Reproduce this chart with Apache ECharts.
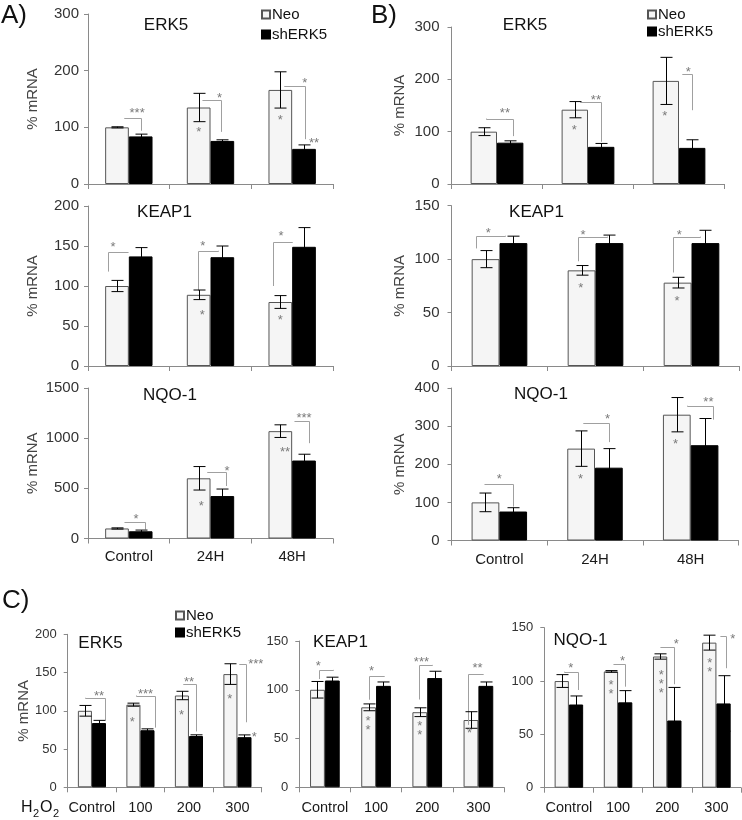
<!DOCTYPE html>
<html><head><meta charset="utf-8">
<script src="https://cdn.jsdelivr.net/npm/echarts@6/dist/echarts.min.js"></script>
<style>html,body{margin:0;padding:0;background:#fff}#c{width:742px;height:820px}</style>
</head><body><div id="c"></div>
<script>
// ---------- categories ----------
const timeCats = ['Control', '24H', '48H'];
const doseCats = ['Control', '100', '200', '300'];
const seriesNames = ['Neo', 'shERK5'];

// ---------- Panel A (time course) ----------
const aErkNeo = [100, 135, 166];   const aErkNeoErr = [1, 25, 32];
const aErkSh  = [84, 76, 62];      const aErkShErr  = [4, 2, 7];
const aKeapNeo = [100, 89, 80];    const aKeapNeoErr = [7, 6, 8];
const aKeapSh  = [137, 136, 149];  const aKeapShErr  = [11, 14, 24];
const aNqoNeo = [100, 600, 1070];  const aNqoNeoErr = [6, 117, 63];
const aNqoSh  = [72, 423, 777];    const aNqoShErr  = [12, 70, 63];

// ---------- Panel B (time course) ----------
const bErkNeo = [100, 142, 197];   const bErkNeoErr = [7.5, 15.5, 45];
const bErkSh  = [79, 71, 69];      const bErkShErr  = [3.5, 6.5, 15.5];
const bKeapNeo = [100, 89.5, 78];  const bKeapNeoErr = [8, 4.5, 5];
const bKeapSh  = [115, 115, 115];  const bKeapShErr  = [6.5, 7.5, 12];
const bNqoNeo = [100, 241, 330];   const bNqoNeoErr = [24.5, 46.5, 45];
const bNqoSh  = [76, 191, 250];    const bNqoShErr  = [10, 50, 70];

// ---------- Panel C (H2O2 dose) ----------
const cErkNeo = [100, 108, 120, 148];    const cErkNeoErr = [7, 2, 5.5, 13.5];
const cErkSh  = [84, 74.6, 67, 65.5];    const cErkShErr  = [3.5, 1.8, 1.6, 3];
const cKeapNeo = [100, 82, 77, 69];      const cKeapNeoErr = [8.5, 3.5, 4.5, 8.5];
const cKeapSh  = [109.5, 104, 112, 104]; const cKeapShErr  = [3.4, 4, 7, 4];
const cNqoNeo = [100, 109, 123, 136];    const cNqoNeoErr = [6, 0.8, 2.5, 7];
const cNqoSh  = [78, 80, 63, 79];        const cNqoShErr  = [8, 11, 31, 26];

// ---------- significance annotations ----------
// bracket: [category, left end (bar widths from category centre), right end, left foot value, top value, right foot value]
const aErkBr  = [[0,-0.2,0.5,116.5,116.5,94],[1,-0.37,0.45,147.6,147.6,92],[2,-0.33,0.53,173,173,79]];
const aKeapBr = [[0,-0.87,-0.04,118,142,142],[1,-0.53,0.3,94,144,144],[2,-0.83,0,100,155,155]];
const aNqoBr  = [[0,-0.2,0.7,160,160,90],[1,-0.15,0.65,663,663,523],[2,0.08,0.7,1167,1167,950]];
const bErkBr  = [[0,-0.4,0.6,125,125,91.5],[1,-0.3,0.5,157,157,80.7],[2,0.1,0.5,210,210,141]];
const bKeapBr = [[0,-0.85,0.2,110,121.9,121.9],[1,-0.62,0.43,98,121,121],[2,-0.66,0.3,87.5,121,121]];
const bNqoBr  = [[0,-0.55,0.48,147,147,89],[1,-0.42,0.52,308,308,258],[2,-0.12,0.81,353.5,353.5,317]];
const cErkBr  = [[0,-0.49,0.9,117,117,88],[1,-0.32,1.07,120,120,78],[2,-0.45,0.47,135,135,73],[3,0.1,0.62,161,161,85]];
const cKeapBr = [[0,-0.39,0.56,111,120.4,120.4],[1,-0.47,0.53,89.8,114,114],[2,-0.55,0.33,90,125.5,125.5],[3,-0.7,0.32,64,116,116]];
const cNqoBr  = [[0,-0.33,0.64,108.75,108.75,91.6],[1,-0.36,0.52,115.6,115.6,94.7],[2,-0.49,0.48,131.6,131.6,97],[3,0.25,0.7,142,142,112]];

// star marks: [category, offset (bar widths from category centre), value, text]
const aErkSt  = [[0,0.35,130,'***'],[1,0.38,158,'*'],[2,0.53,184,'*'],[1,-0.5,98,'*'],[2,-0.5,119,'*'],[2,0.92,78,'**']];
const aKeapSt = [[0,-0.67,152,'*'],[1,-0.33,154,'*'],[2,-0.47,166,'*'],[1,-0.35,68,'*'],[2,-0.5,61,'*']];
const aNqoSt  = [[0,0.3,230,'*'],[1,0.7,707,'*'],[2,0.5,1230,'***'],[1,-0.39,357,'*'],[2,-0.3,897,'**']];
const bErkSt  = [[0,0.3,141,'**'],[1,0.3,167,'**'],[2,0.35,220,'*'],[1,-0.52,109,'*'],[2,-0.54,135,'*']];
const bKeapSt = [[0,-0.4,127,'*'],[1,-0.45,125.6,'*'],[2,-0.44,125.6,'*'],[1,-0.53,75.6,'*'],[2,-0.52,64,'*']];
const bNqoSt  = [[0,0,170,'*'],[1,0.45,328,'*'],[2,0.64,372,'**'],[1,-0.52,170,'*'],[2,-0.55,260,'*']];
const cErkSt  = [[0,0.5,123,'**'],[1,0.36,126.6,'***'],[2,0,142,'**'],[3,1.3,165,'***'],[1,-0.58,90,'*'],[2,-0.52,99,'*'],[3,-0.55,120,'*'],[3,1.2,70,'*']];
const cKeapSt = [[0,-0.45,127.6,'*'],[1,-0.3,122,'*'],[2,-0.39,132,'***'],[3,-0.06,125,'**'],[1,-0.54,67,'*\n*'],[2,-0.5,61.5,'*\n*'],[3,-0.6,58.5,'*']];
const cNqoSt  = [[0,0.14,115,'*'],[1,0.32,122,'*'],[2,0.64,137.5,'*'],[3,1.15,142,'*'],[1,-0.5,95,'*\n*'],[2,-0.42,100,'*\n*\n*'],[3,-0.47,116,'*\n*']];

// ---------- layout ----------
const FONT = '"Liberation Sans", Arial, Helvetica, sans-serif';
const GAP = 0.42;
const panels = [
  {cats:timeCats, neo:aErkNeo, neoErr:aErkNeoErr, sh:aErkSh, shErr:aErkShErr, br:aErkBr, st:aErkSt, max:300, step:100,
   grid:{left:88, top:14, width:245, height:170}, title:'ERK5', tx:166, ty:25, xl:false, yName:true, nameGap:48, fs:15, lm:9},
  {cats:timeCats, neo:aKeapNeo, neoErr:aKeapNeoErr, sh:aKeapSh, shErr:aKeapShErr, br:aKeapBr, st:aKeapSt, max:200, step:50,
   grid:{left:88, top:206, width:245, height:160}, title:'KEAP1', tx:164.5, ty:212, xl:false, yName:true, nameGap:48, fs:15, lm:9},
  {cats:timeCats, neo:aNqoNeo, neoErr:aNqoNeoErr, sh:aNqoSh, shErr:aNqoShErr, br:aNqoBr, st:aNqoSt, max:1500, step:500,
   grid:{left:88, top:388, width:245, height:150.5}, title:'NQO-1', tx:170, ty:395, xl:true, yName:true, nameGap:48, fs:15, lm:9, xfs:15, xm:11},
  {cats:timeCats, neo:bErkNeo, neoErr:bErkNeoErr, sh:bErkSh, shErr:bErkShErr, br:bErkBr, st:bErkSt, max:300, step:100,
   grid:{left:451.5, top:27, width:273, height:157}, title:'ERK5', tx:525, ty:25, xl:false, yName:true, nameGap:44, fs:15, lm:12},
  {cats:timeCats, neo:bKeapNeo, neoErr:bKeapNeoErr, sh:bKeapSh, shErr:bKeapShErr, br:bKeapBr, st:bKeapSt, max:150, step:50,
   grid:{left:451.5, top:205.7, width:288, height:160.3}, title:'KEAP1', tx:536.5, ty:212, xl:false, yName:true, nameGap:44, fs:15, lm:12},
  {cats:timeCats, neo:bNqoNeo, neoErr:bNqoNeoErr, sh:bNqoSh, shErr:bNqoShErr, br:bNqoBr, st:bNqoSt, max:400, step:100,
   grid:{left:451.5, top:388, width:287, height:152.5}, title:'NQO-1', tx:541, ty:394, xl:true, yName:true, nameGap:44, fs:15, lm:12, xfs:15, xm:12},
  {cats:doseCats, neo:cErkNeo, neoErr:cErkNeoErr, sh:cErkSh, shErr:cErkShErr, br:cErkBr, st:cErkSt, max:200, step:50,
   grid:{left:67.7, top:634.3, width:194, height:153}, title:'ERK5', tx:100.5, ty:643, xl:true, yName:true, nameGap:33, fs:13, lm:11, xfs:14.5, xm:13},
  {cats:doseCats, neo:cKeapNeo, neoErr:cKeapNeoErr, sh:cKeapSh, shErr:cKeapShErr, br:cKeapBr, st:cKeapSt, max:150, step:50,
   grid:{left:299.3, top:641, width:204.7, height:146.3}, title:'KEAP1', tx:340.5, ty:642, xl:true, yName:false, fs:13, lm:11, xfs:14.5, xm:13},
  {cats:doseCats, neo:cNqoNeo, neoErr:cNqoNeoErr, sh:cNqoSh, shErr:cNqoShErr, br:cNqoBr, st:cNqoSt, max:150, step:50,
   grid:{left:544.3, top:627.7, width:196.7, height:160}, title:'NQO-1', tx:580.5, ty:640, xl:true, yName:false, fs:13, lm:11, xfs:14.5, xm:13}
];

const grids = [], xAxes = [], yAxes = [], series = [];
const graphics = [];
const AX = '#8a8a8a';

panels.forEach((p, i) => {
  grids.push(Object.assign({containLabel:false}, p.grid));
  xAxes.push({
    type:'category', gridIndex:i, data:p.cats,
    axisLine:{lineStyle:{color:AX, width:1}},
    axisTick:{show:true, length:5, lineStyle:{color:AX}},
    axisLabel:{show:p.xl, interval:0, fontFamily:FONT, fontSize:p.xfs || 15, color:'#1a1a1a', margin:p.xm || 11}
  });
  yAxes.push({
    type:'value', gridIndex:i, min:0, max:p.max, interval:p.step,
    name:p.yName ? '% mRNA' : '', nameLocation:'middle', nameRotate:90, nameGap:p.nameGap || 40,
    nameTextStyle:{fontFamily:FONT, fontSize:15, color:'#444'},
    axisLine:{show:true, lineStyle:{color:AX, width:1}},
    axisTick:{show:true, length:4, lineStyle:{color:AX}},
    splitLine:{show:false},
    axisLabel:{fontFamily:FONT, fontSize:p.fs, color:'#333', margin:p.lm, formatter:v => String(v)}
  });
  series.push({
    name:'Neo', type:'bar', xAxisIndex:i, yAxisIndex:i, data:p.neo,
    barGap:'0%', barCategoryGap:(GAP*100)+'%',
    itemStyle:{color:'#f5f5f5', borderColor:'#555', borderWidth:1}, silent:true
  });
  series.push({
    name:'shERK5', type:'bar', xAxisIndex:i, yAxisIndex:i, data:p.sh,
    barGap:'0%', barCategoryGap:(GAP*100)+'%',
    itemStyle:{color:'#000', borderColor:'#000', borderWidth:1}, silent:true
  });
  // error bars
  const eb = [];
  p.neo.forEach((v, k) => eb.push([k, 0, v - p.neoErr[k], v + p.neoErr[k]]));
  p.sh.forEach((v, k) => eb.push([k, 1, v - p.shErr[k], v + p.shErr[k]]));
  series.push({
    type:'custom', xAxisIndex:i, yAxisIndex:i, data:eb, encode:{x:0, y:[2,3]}, z:5, silent:true,
    renderItem:(params, api) => {
      const c = api.value(0), side = api.value(1);
      const lo = api.coord([c, api.value(2)]), hi = api.coord([c, api.value(3)]);
      const band = api.size([1, 0])[0];
      const bw = band * (1 - GAP) / 2;
      const x = Math.round(lo[0] + (side === 0 ? -bw / 2 : bw / 2)) + 0.5;
      const cap = 6;
      const st = {stroke:'#000', lineWidth:1};
      return {type:'group', children:[
        {type:'line', shape:{x1:x, y1:lo[1], x2:x, y2:hi[1]}, style:st},
        {type:'line', shape:{x1:x-cap, y1:hi[1], x2:x+cap, y2:hi[1]}, style:st},
        {type:'line', shape:{x1:x-cap, y1:lo[1], x2:x+cap, y2:lo[1]}, style:st}
      ]};
    }
  });
  // brackets
  const brs = p.br;
  series.push({
    type:'custom', xAxisIndex:i, yAxisIndex:i, data:brs.map(b => [b[0], b[3], b[4], b[5]]),
    encode:{x:0, y:[1,2,3]}, z:4, silent:true,
    renderItem:(params, api) => {
      const b = brs[params.dataIndex];
      const band = api.size([1, 0])[0];
      const bw = band * (1 - GAP) / 2;
      const top = api.coord([b[0], b[4]]);
      const xL = Math.round(top[0] + b[1] * bw) + 0.5, xR = Math.round(top[0] + b[2] * bw) + 0.5;
      const yT = Math.round(top[1]) + 0.5;
      const yL = api.coord([b[0], b[3]])[1], yR = api.coord([b[0], b[5]])[1];
      return {type:'polyline', shape:{points:[[xL, yL], [xL, yT], [xR, yT], [xR, yR]]},
              style:{stroke:'#a0a0a0', lineWidth:1, fill:null}};
    }
  });
  // stars
  const sts = p.st;
  series.push({
    type:'custom', xAxisIndex:i, yAxisIndex:i, data:sts.map(s => [s[0], s[2]]),
    encode:{x:0, y:1}, z:6, silent:true,
    renderItem:(params, api) => {
      const s = sts[params.dataIndex];
      const band = api.size([1, 0])[0];
      const bw = band * (1 - GAP) / 2;
      const pt = api.coord([s[0], s[2]]);
      return {type:'text', x:pt[0] + s[1] * bw, y:pt[1] + 3.5,
              style:{text:s[3], fill:'#7a7a7a', font:'13px ' + FONT, lineHeight:9,
                     align:'center', verticalAlign:'middle', textAlign:'center', textVerticalAlign:'middle'}};
    }
  });
  graphics.push({type:'text', x:p.tx, y:p.ty,
    style:{text:p.title, font:'17px ' + FONT, fill:'#111', align:'center', verticalAlign:'middle', textAlign:'center', textVerticalAlign:'middle'}});
});

// panel letters and H2O2
const letter = (t, x, y) => ({type:'text', x:x, y:y,
  style:{text:t, font:'26px ' + FONT, fill:'#111', align:'left', verticalAlign:'middle', textAlign:'left', textVerticalAlign:'middle'}});
graphics.push(letter('A)', 1, 16), letter('B)', 371, 16), letter('C)', 2, 601));
const sub = (t, x, y, fs) => ({type:'text', x:x, y:y,
  style:{text:t, font:fs + 'px ' + FONT, fill:'#111', align:'left', verticalAlign:'middle', textAlign:'left', textVerticalAlign:'middle'}});
graphics.push(sub('H', 21, 808, 16), sub('2', 33, 814, 11), sub('O', 40, 808, 16), sub('2', 53, 814, 11));

const legendBase = {orient:'vertical', data:seriesNames, icon:'rect', itemWidth:8, itemHeight:8,
  textStyle:{fontFamily:FONT, fontSize:15, color:'#111', padding:[0,0,0,-3]}, padding:0, selectedMode:false};
const legends = [
  Object.assign({left:261, top:7, itemGap:5}, legendBase),
  Object.assign({left:647, top:7, itemGap:2}, legendBase),
  Object.assign({left:175, top:608, itemGap:2}, legendBase)
];

const chart = echarts.init(document.getElementById('c'), null, {renderer:'canvas'});
chart.setOption({
  animation:false,
  backgroundColor:'#fff',
  grid:grids, xAxis:xAxes, yAxis:yAxes, series:series,
  legend:legends,
  graphic:graphics
});
</script>
</body></html>
